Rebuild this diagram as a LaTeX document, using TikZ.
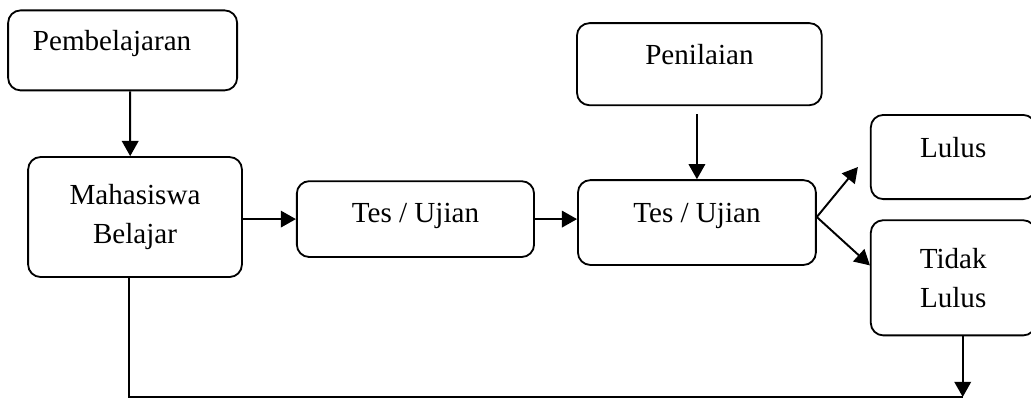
\documentclass[tikz,border=0pt]{standalone}
\usepackage{fontspec}
\setmainfont{Liberation Serif}
\usetikzlibrary{arrows.meta,positioning}

\begin{document}
\begin{tikzpicture}[
        box/.style={
            rectangle,
            draw,
            rounded corners=0.18cm,
            line width=0.75pt,
            align=center,
            font=\fontsize{12}{16}\selectfont
        },
        oneline/.style={
            text height=0.25cm,
            text depth=0.25cm
        },
        flow/.style={
            line width=0.8pt,
            -{Triangle[length=0.22cm,width=0.24cm]}
        }
    ]
        \useasboundingbox (0,0) rectangle (14.95,-5.757);

        \node (2) [
            box,
            minimum width=3.10cm,
            minimum height=1.74cm
        ] at (1.958,-3.147)
        {Mahasiswa\\Belajar};

        \node (1) [
            box,
            oneline,
            align=left,
            text width=2.6cm,
            inner xsep=0.36cm,
            minimum height=1.16cm,
            above=0.94cm of 2,
            xshift=-0.18cm
        ]
        {Pembelajaran};

        \node (3) [
            box,
            oneline,
            text height=0.35cm,
            minimum width=3.44cm,
            minimum height=1.10cm,
            right=0.77cm of 2,
            yshift=-0.03cm
        ]
        {Tes / Ujian};

        \node (4) [
            box,
            oneline,
            minimum width=3.45cm,
            minimum height=1.23cm,
            right=0.61cm of 3,
            yshift=-0.05cm
        ]
        {Tes / Ujian};

        \node (5) [
            box,
            oneline,
            minimum width=3.55cm,
            minimum height=1.19cm,
            above=1.06cm of 4,
            xshift=0.036cm
        ]
        {Penilaian};

        \node (6) [
            box,
            oneline,
            minimum width=2.39cm,
            minimum height=1.22cm,
            right=0.77cm of 4,
            yshift=0.95cm
        ]
        {Lulus};

        \node (7) [
            box,
            minimum width=2.39cm,
            minimum height=1.67cm,
            below=0.28cm of 6
        ]
        {Tidak\\Lulus};

        % corner where the return line meets the arrow from "Tidak Lulus"
        \coordinate (9) at ([xshift=0.138cm, yshift=-0.88cm]7.south);

        \draw[flow] ([xshift=0.11cm]1.south) to ([xshift=-0.07cm]2.north);
        \draw[flow] ([yshift=-0.03cm]2.east) to (3.west);
        \draw[flow] (3.east) to (3.east -| 4.west);
        \draw[flow] ([xshift=-0.036cm, yshift=-0.12cm]5.south) to (4.north);
        \draw[flow] ([yshift=0.08cm]4.east) to ([xshift=-0.174cm, yshift=-0.145cm]6.west);
        \draw[flow] ([yshift=0.08cm]4.east) to ([yshift=0.18cm]7.west);
        \draw[flow] ([xshift=0.138cm]7.south) to (9);
        \draw[line width=0.8pt] ([xshift=-0.087cm]2.south) |- (9);
    \end{tikzpicture}
\end{document}
